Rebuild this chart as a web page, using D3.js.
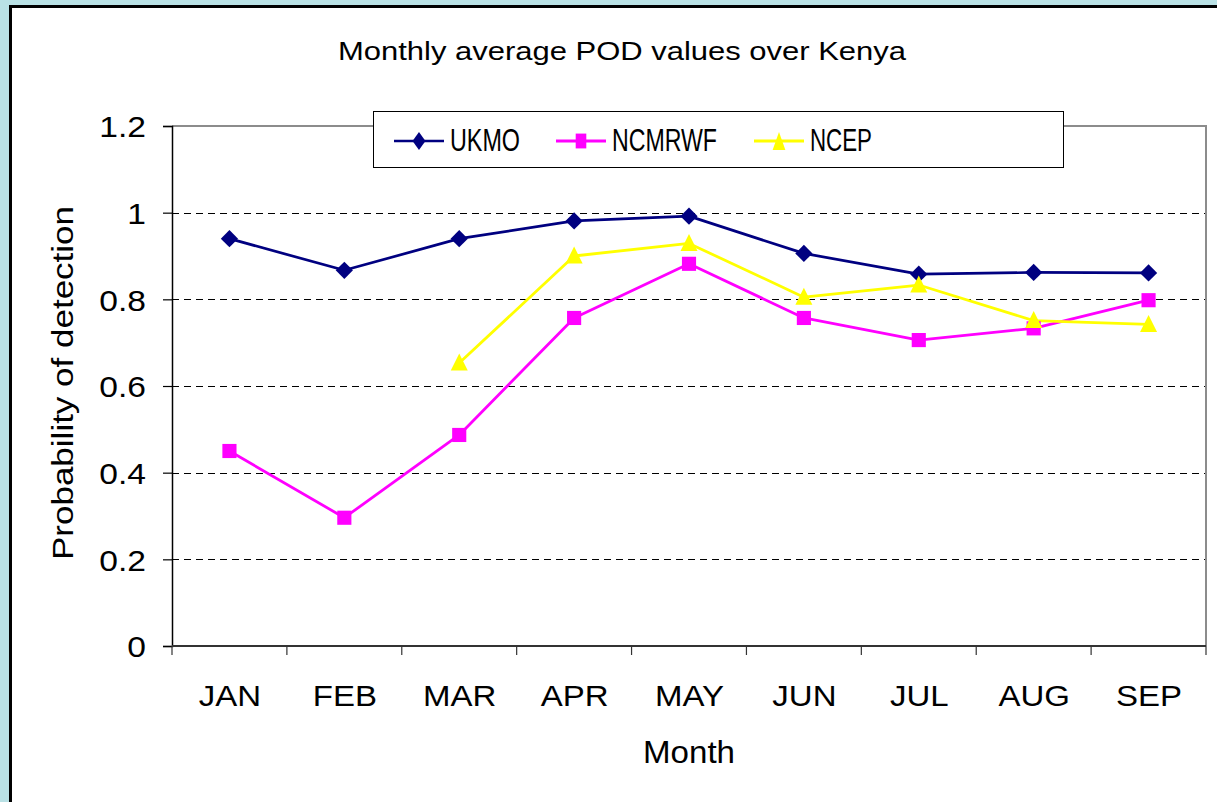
<!DOCTYPE html>
<html>
<head>
<meta charset="utf-8">
<script src="https://cdn.jsdelivr.net/npm/d3@7/dist/d3.min.js"></script>
<style>
  html, body { margin: 0; padding: 0; background: #b9e1e5; }
  svg { display: block; }
  text { font-family: "Liberation Sans", Arial, sans-serif; fill: #000; }
</style>
</head>
<body>
<svg id="chart" width="1217" height="802"></svg>
<script>
const months = ["JAN", "FEB", "MAR", "APR", "MAY", "JUN", "JUL", "AUG", "SEP"];
const ukmo   = [0.94, 0.867, 0.94, 0.981, 0.992, 0.906, 0.858, 0.862, 0.861];
const ncmrwf = [0.45, 0.296, 0.487, 0.757, 0.882, 0.757, 0.706, 0.733, 0.798];
const ncep   = [null, null, 0.653, 0.90, 0.929, 0.805, 0.833, 0.751, 0.742];
const yTicks = [0, 0.2, 0.4, 0.6, 0.8, 1, 1.2];
const seriesNames = ["UKMO", "NCMRWF", "NCEP"];

const svg = d3.select("#chart");
const W = 1217, H = 802;

// widen a text element horizontally by a factor
function stretch(sel, k) {
  sel.each(function () {
    const w = this.getComputedTextLength();
    d3.select(this).attr("textLength", w * k).attr("lengthAdjust", "spacingAndGlyphs");
  });
}

// frame
svg.append("rect").attr("x", 0).attr("y", 0).attr("width", W).attr("height", H).attr("fill", "#b9e1e5");
svg.append("rect").attr("x", 10.5).attr("y", 6.5).attr("width", W + 20).attr("height", H + 20)
  .attr("fill", "#fff").attr("stroke", "#000").attr("stroke-width", 3);

const L = 172, R = 1206, T = 126, B = 646;
const x = d3.scaleBand().domain(months).range([L, R]);
const y = d3.scaleLinear().domain([0, 1.2]).range([B, T]);

// gridlines
svg.append("g").selectAll("line").data(yTicks.filter(v => v > 0 && v < 1.2)).join("line")
  .attr("x1", L).attr("x2", R)
  .attr("y1", d => Math.round(y(d)) + 0.5).attr("y2", d => Math.round(y(d)) + 0.5)
  .attr("stroke", "#000").attr("stroke-width", 1).attr("stroke-dasharray", "7,5");

// plot border top/right (gray)
svg.append("path").attr("d", `M${L},${T}H${R}V${B}`).attr("fill", "none")
  .attr("stroke", "#8c8c8c").attr("stroke-width", 2);

// Y axis
const yAxis = d3.axisLeft(y).tickValues(yTicks).tickSize(9).tickPadding(17)
  .tickFormat(d => d3.format("")(+d.toFixed(1)));
const gy = svg.append("g").attr("transform", `translate(${L},0)`).call(yAxis);
gy.select(".domain").attr("stroke", "#000").attr("stroke-width", 1.5);
gy.selectAll(".tick line").attr("stroke", "#000").attr("stroke-width", 1.2);
gy.selectAll(".tick text").style("font-size", "30px").attr("dy", "0.36em");
stretch(gy.selectAll(".tick text"), 1.12);

// X axis
const gx = svg.append("g").attr("transform", `translate(0,${B})`);
gx.append("line").attr("x1", L).attr("x2", R).attr("y1", 0).attr("y2", 0)
  .attr("stroke", "#333").attr("stroke-width", 2);
const bounds = months.map(m => x(m)).concat([R]);
gx.selectAll("line.tk").data(bounds).join("line").attr("class", "tk")
  .attr("x1", d => d).attr("x2", d => d).attr("y1", 0).attr("y2", 9)
  .attr("stroke", "#333").attr("stroke-width", 1.2);
const mt = gx.selectAll("text").data(months).join("text")
  .attr("x", d => x(d) + x.bandwidth() / 2 + 0.5).attr("y", 60)
  .attr("text-anchor", "middle").style("font-size", "30px")
  .text(d => d);
stretch(mt, 1.1);

// axis titles
svg.append("text").attr("x", 622).attr("y", 60).attr("text-anchor", "middle")
  .style("font-size", "26px").attr("textLength", 568).attr("lengthAdjust", "spacingAndGlyphs")
  .text("Monthly average POD values over Kenya");
svg.append("text").attr("x", 689).attr("y", 763).attr("text-anchor", "middle")
  .style("font-size", "31px").attr("textLength", 92).attr("lengthAdjust", "spacingAndGlyphs")
  .text("Month");
svg.append("text").attr("transform", "translate(73,383) rotate(-90)").attr("text-anchor", "middle")
  .style("font-size", "30px").attr("textLength", 354).attr("lengthAdjust", "spacingAndGlyphs")
  .text("Probability of detection");

// custom triangle (equal width and height)
const tri = { draw(ctx, size) { const s = Math.sqrt(size) / 2; ctx.moveTo(0, -s); ctx.lineTo(s, s); ctx.lineTo(-s, s); ctx.closePath(); } };

// series
const cx = i => x(months[i]) + x.bandwidth() / 2;
const line = d3.line().defined(d => d != null).x((d, i) => cx(i)).y(d => y(d));
const colors = { UKMO: "#000080", NCMRWF: "#ff00ff", NCEP: "#ffff00" };
const dataMap = { UKMO: ukmo, NCMRWF: ncmrwf, NCEP: ncep };
const symbols = {
  UKMO: d3.symbol().type(d3.symbolDiamond2).size(190),
  NCMRWF: d3.symbol().type(d3.symbolSquare).size(200),
  NCEP: d3.symbol().type(tri).size(289)
};
const widths = { UKMO: 2.7, NCMRWF: 2.8, NCEP: 2.8 };

seriesNames.forEach(name => {
  const vals = dataMap[name];
  svg.append("path").datum(vals).attr("d", line).attr("fill", "none")
    .attr("stroke", colors[name]).attr("stroke-width", widths[name]).attr("stroke-linejoin", "round");
});
seriesNames.forEach(name => {
  const vals = dataMap[name];
  svg.append("g").selectAll("path").data(vals.map((v, i) => [v, i]).filter(d => d[0] != null)).join("path")
    .attr("d", symbols[name]).attr("fill", colors[name])
    .attr("transform", d => `translate(${cx(d[1])},${y(d[0]) + (name === "NCEP" ? -1 : 0)})`);
});

// legend
const lg = svg.append("g");
lg.append("rect").attr("x", 373.5).attr("y", 111.5).attr("width", 690).attr("height", 56)
  .attr("fill", "#fff").attr("stroke", "#000").attr("stroke-width", 1);
const legItems = [
  { name: "UKMO", x0: 394, tl: 70 },
  { name: "NCMRWF", x0: 556, tl: 105 },
  { name: "NCEP", x0: 754, tl: 62 }
];
legItems.forEach(it => {
  const g = lg.append("g");
  g.append("line").attr("x1", it.x0).attr("x2", it.x0 + 50).attr("y1", 141).attr("y2", 141)
    .attr("stroke", colors[it.name]).attr("stroke-width", widths[it.name]);
  g.append("path").attr("d", symbols[it.name]).attr("fill", colors[it.name])
    .attr("transform", `translate(${it.x0 + 25},141) scale(0.75,1.05)`);
  g.append("text").attr("x", it.x0 + 56).attr("y", 151).style("font-size", "31px")
    .attr("textLength", it.tl).attr("lengthAdjust", "spacingAndGlyphs").text(it.name);
});
</script>
</body>
</html>
